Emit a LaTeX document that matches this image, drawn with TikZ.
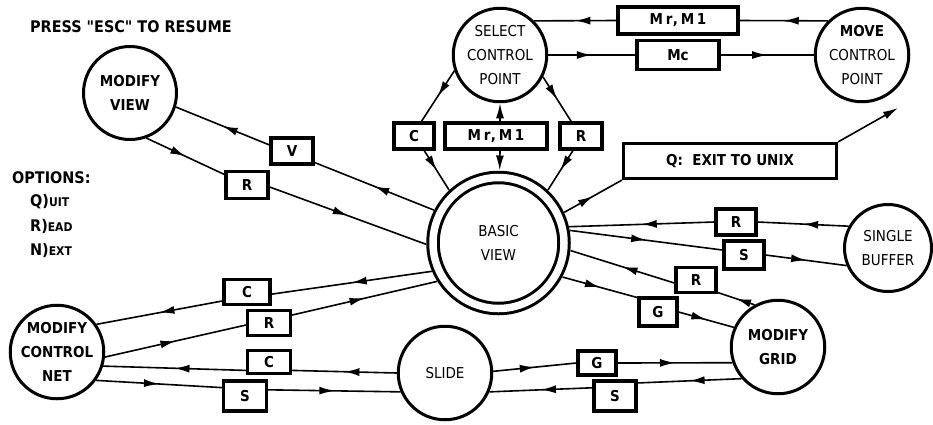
\documentclass[tikz,border=0pt]{standalone}
\usepackage{fontspec}
\newfontfamily\lettering{DejaVu Sans Condensed}
\usetikzlibrary{arrows.meta}
\usetikzlibrary{decorations.markings}

\begin{document}
\begin{tikzpicture}[x=1pt,y=1pt,yscale=-1,xscale=1,
  state/.style={circle,draw,line width=3pt,minimum size=93.5pt,inner sep=0pt,align=center,font={\lettering\fontsize{15}{24}\selectfont}},
  boldstate/.style={state,font={\lettering\bfseries\fontsize{15}{24}\selectfont}},
  key/.style={draw,line width=3.2pt,inner sep=0pt,minimum width=40pt,minimum height=26pt,font={\lettering\bfseries\fontsize{15}{18}\selectfont}},
  note/.style={anchor=west,inner sep=0pt,font={\lettering\bfseries\fontsize{16}{18}\selectfont}},
  flow/.style={line width=1.6pt,postaction={decorate},decoration={markings,mark=at position 0.5 with {\arrow{Latex[length=15pt,width=8pt]}}}},
  tip/.style={line width=1.6pt,-{Latex[length=15pt,width=8pt]}}]
\useasboundingbox (0,0) rectangle (933,424);

% Text Node
\node[note] (press) at (30,27) {PRESS "ESC" TO RESUME};
% Text Node
\node[note] (opts) at (12,178) {OPTIONS:};
\node[note] (quit) at (30,202) {Q){\fontsize{12}{12}\selectfont UIT}};
\node[note] (read) at (30,226) {R){\fontsize{12}{12}\selectfont EAD}};
\node[note] (next) at (30,250) {N){\fontsize{12}{12}\selectfont EXT}};

%Shape: Circle
\node[boldstate,minimum size=93pt] (mv) at (130,93) {MODIFY\\VIEW};
\node[state] (scp) at (500,55) {SELECT\\CONTROL\\POINT};
\node[state] (mcp) at (862,55) {\textbf{MOVE}\\CONTROL\\POINT};
\node[state,minimum size=131pt,line width=3pt,double,double distance=7.5pt,outer sep=7pt] (bv) at (498.5,243) {BASIC\\VIEW};
\node[state,minimum size=87pt] (sb) at (888,248) {SINGLE\\BUFFER};
\node[boldstate] (mg) at (778,347) {MODIFY\\GRID};
\node[state] (slide) at (445,373) {SLIDE};
\node[boldstate] (mcn) at (57,352) {MODIFY\\CONTROL\\NET};

%Shape: Rectangle
\node[key,minimum width=42pt] (bV) at (292,151) {V};
\node[key,minimum width=42pt,minimum height=27pt] (bRv) at (247,185) {R};
\node[key] (bC1) at (414,136) {C};
\node[key,minimum width=102pt] (bM) at (496,136) {\addfontfeature{LetterSpace=18}Mr,M1};
\node[key,minimum width=42pt] (bR1) at (581,136) {R};
\node[key,minimum width=120pt,minimum height=27pt] (bMM) at (678,20.5) {\addfontfeature{LetterSpace=18}Mr,M1};
\node[key,minimum width=82pt,minimum height=29pt] (bMc) at (678,55) {Mc};
\node[key,minimum width=213pt,minimum height=35pt] (bQ) at (730,161) {Q:~~EXIT TO UNIX};
\node[key] (bRs) at (736,222) {R};
\node[key,minimum height=28pt] (bSs) at (744,255) {S};
\node[key,minimum height=25pt] (bRg) at (696,280) {R};
\node[key,minimum width=38pt,minimum height=28pt] (bGg) at (658,312) {G};
\node[key,minimum width=38pt,minimum height=24pt] (bG2) at (597,363) {G};
\node[key,minimum width=42pt,minimum height=30pt] (bS2) at (615,396) {S};
\node[key,minimum width=46pt,minimum height=25pt] (bC3) at (247,292) {C};
\node[key,minimum width=43pt,minimum height=25pt] (bR3) at (269,323) {R};
\node[key,minimum width=43pt,minimum height=23pt] (bC4) at (269,362) {C};
\node[key,minimum width=43pt,minimum height=30pt] (bS4) at (245,396) {S};

%Straight Lines
% view
\draw[flow] (bv.153) -- (bV.-27);
\draw[flow] (bV.165) -- (mv.-17);
\draw[flow] (mv.-70) -- (bRv.155);
\draw[flow] (bRv.-5) -- (bv.181);
% select control point
\draw[flow] (scp.199) -- (bC1.63);
\draw[flow] (bC1.-55) -- (bv.133);
\draw[tip] (bM.north -| scp) -- (scp);
\draw[tip] (bM.south -| scp) -- (bv);
\draw[flow] (scp.-27) -- (bR1.124);
\draw[flow] (bR1.-119) -- (bv.47);
% move control point
\draw[flow] (mcp.135) -- (bMM.east);
\draw[flow] (bMM.west) -- (scp.45);
\draw[flow] (scp.east) -- (bMc.west);
\draw[flow] (bMc.east) -- (mcp.west);
% exit
\coordinate (unix) at (898,108);
\draw[flow] (bv.25) -- (bQ.south west);
\draw[tip] (bQ.north east) -- (unix);
% single buffer
\draw[flow] (sb.151) -- (bRs.east);
\draw[flow] (bRs.west) -- (bv.13);
\draw[flow] (bv.10) -- (bSs.167);
\draw[flow] (bSs.east) -- (sb.203);
% grid
\draw[flow] (mg.119) -- (bRg.-30);
\draw[flow] (bRg.188) -- (bv.-6);
\draw[flow] (bv.-28) -- (bGg.145);
\draw[flow] (bGg.east) -- (mg.156);
% slide
\draw[flow] (slide.2) -- (bG2.west);
\draw[flow] (bG2.east) -- (mg.199);
\draw[flow] (mg.221) -- (bS2.30);
\draw[flow] (bS2.160) -- (slide.-23);
\draw[flow] (slide.180) -- (bC4.-20);
\draw[flow] (bC4.200) -- (mcn.-17);
\draw[flow] (mcn.-36) -- (bS4.160);
\draw[flow] (bS4.15) -- (slide.203);
% control net
\draw[flow] (bv.203) -- (bC3.-5);
\draw[flow] (bC3.200) -- (mcn.35);
\draw[flow] (mcn.-6) -- (bR3.185);
\draw[flow] (bR3.19) -- (bv.212);

\end{tikzpicture}
\end{document}
